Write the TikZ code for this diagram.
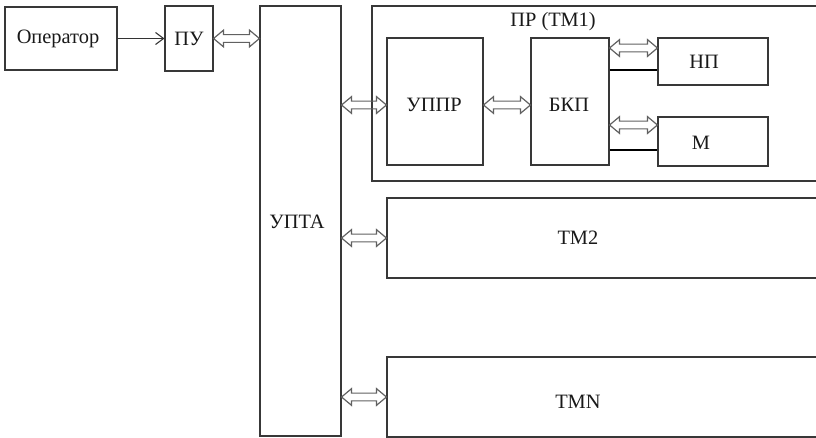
\documentclass[tikz,border=0pt]{standalone}
\usepackage{fontspec}
\setmainfont{Liberation Serif}
\usetikzlibrary{calc,fit,arrows.meta}
\tikzset{
  box/.style={draw=black!78, line width=0.85pt, inner sep=0pt},
  lbl/.style={font=\fontsize{15.3}{18}\selectfont, inner sep=0pt, text=black!90},
  bus/.style={draw=black, line width=1.8pt},
  arr/.style={draw=black!80, line width=0.8pt, -{Straight Barb[length=6pt,width=9pt,line width=0.8pt]}},
  dbl/.style={draw=black!62, line width=0.9pt, line join=miter,
    to path={let \p1=(\tikztostart), \p2=(\tikztotarget) in
      (\x1,\y1) -- (\x1+7.5pt,\y1+6.3pt) -- (\x1+7.5pt,\y1+2.9pt) -- (\x2-7.5pt,\y1+2.9pt)
      -- (\x2-7.5pt,\y1+6.3pt) -- (\x2,\y1) -- (\x2-7.5pt,\y1-6.3pt) -- (\x2-7.5pt,\y1-2.9pt)
      -- (\x1+7.5pt,\y1-2.9pt) -- (\x1+7.5pt,\y1-6.3pt) -- cycle}}
}
\begin{document}
\begin{tikzpicture}[x=0.75pt,y=-0.75pt]
\useasboundingbox (0,0) rectangle (816,438);
\clip (0,0) rectangle (816,438);
% boxes
\node[box, fit={(5,7) (117,70)}] (op) {};
\node[box, fit={(165,6) (213,71)}] (pu) {};
\node[box, fit={(260,6) (341,436)}] (upta) {};
\node[box, fit={(372,6) (830,181)}] (pr) {};
\node[box, fit={(387,38) (483,165)}] (uppr) {};
\node[box, fit={(531,38) (609,165)}] (bkp) {};
\node[box, fit={(658,38) (768,85)}] (np) {};
\node[box, fit={(658,117) (768,166)}] (m) {};
\node[box, fit={(387,198) (830,278)}] (tm2) {};
\node[box, fit={(387,357) (830,437)}] (tmn) {};
% labels
\node[lbl] (tOp) at (58,39) {Оператор};
\node[lbl] (tPu) at (189,39) {ПУ};
\node[lbl] (tUpta) at (297,222) {УПТА};
\node[lbl] (tPr) at (553,22) {ПР (ТМ1)};
\node[lbl] (tUppr) at (434,105) {УППР};
\node[lbl] (tBkp) at (569,105) {БКП};
\node[lbl] (tNp) at (704,62) {НП};
\node[lbl] (tM) at (701,143) {М};
\node[lbl] (tTm2) at (578,238) {ТМ2};
\node[lbl] (tTmn) at (578,402) {ТМN};
% helper coordinates
\coordinate (cU) at ($(uppr.west)+(0,3.5)$);
\coordinate (cUb) at ($(bkp.west)+(0,3.5)$);
\coordinate (cNa) at ($(np.west)+(0,-13.5)$);
\coordinate (cNb) at ($(np.west)+(0,8.5)$);
\coordinate (cMa) at ($(m.west)+(0,-16.5)$);
\coordinate (cMb) at ($(m.west)+(0,8.5)$);
% connectors
\draw[arr] (op.east) -- (op.east -| pu.west);
\draw[dbl] (pu.east) to (pu.east -| upta.west);
\draw[dbl] (cU -| upta.east) to (cU);
\draw[dbl] (cUb -| uppr.east) to (cUb);
\draw[dbl] (cNa -| bkp.east) to (cNa);
\draw[bus] (cNb -| bkp.east) -- (cNb);
\draw[dbl] (cMa -| bkp.east) to (cMa);
\draw[bus] (cMb -| bkp.east) -- (cMb);
\draw[dbl] (tm2.west -| upta.east) to (tm2.west);
\draw[dbl] (tmn.west -| upta.east) to (tmn.west);
\end{tikzpicture}
\end{document}
